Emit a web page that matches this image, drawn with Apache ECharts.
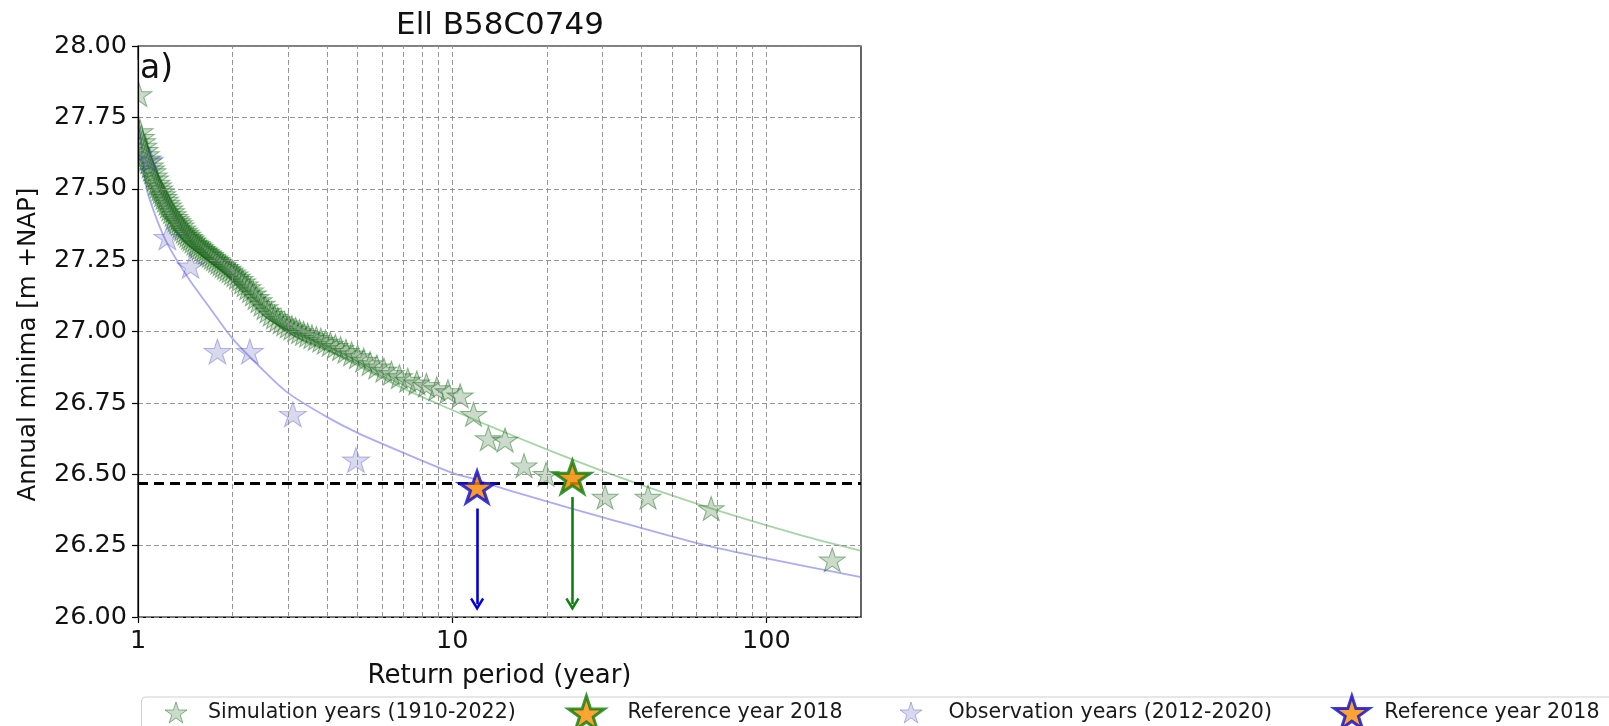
<!DOCTYPE html>
<html>
<head>
<meta charset="utf-8">
<title>Ell B58C0749</title>
<script src="https://cdn.jsdelivr.net/npm/echarts@6/dist/echarts.min.js"></script>
<style>
  html, body { margin: 0; padding: 0; background: #ffffff; }
  #chart { width: 1609px; height: 726px; }
</style>
</head>
<body>
<div id="chart"></div>
<script>
// Simulated annual minima (1910-2022), sorted by return period
const simReturnPeriod = [
  1.006, 1.015, 1.024, 1.034, 1.043, 1.053, 1.063, 1.073, 1.083, 1.094,
  1.104, 1.115, 1.126, 1.137, 1.149, 1.161, 1.173, 1.185, 1.197, 1.210,
  1.223, 1.237, 1.250, 1.264, 1.278, 1.293, 1.308, 1.323, 1.339, 1.355,
  1.371, 1.388, 1.405, 1.423, 1.441, 1.459, 1.478, 1.498, 1.518, 1.539,
  1.560, 1.582, 1.604, 1.627, 1.651, 1.675, 1.700, 1.726, 1.753, 1.780,
  1.809, 1.838, 1.868, 1.899, 1.932, 1.965, 2.000, 2.036, 2.073, 2.112,
  2.152, 2.193, 2.237, 2.282, 2.329, 2.377, 2.428, 2.481, 2.537, 2.595,
  2.656, 2.719, 2.786, 2.856, 2.930, 3.008, 3.090, 3.176, 3.268, 3.365,
  3.468, 3.577, 3.694, 3.818, 3.951, 4.094, 4.247, 4.412, 4.591, 4.785,
  4.996, 5.226, 5.478, 5.756, 6.064, 6.407, 6.790, 7.223, 7.714, 8.277,
  8.929, 9.692, 10.60, 11.69, 13.03, 14.73, 16.93, 19.89, 24.13, 30.65,
  42.00, 66.71, 162.0
];
const simMinima = [
  27.83, 27.70, 27.68, 27.665, 27.65, 27.635, 27.62, 27.605, 27.595, 27.58,
  27.57, 27.56, 27.545, 27.535, 27.52, 27.51, 27.50, 27.49, 27.48, 27.47,
  27.46, 27.45, 27.44, 27.43, 27.42, 27.41, 27.40, 27.392, 27.385, 27.378,
  27.37, 27.36, 27.352, 27.345, 27.338, 27.33, 27.325, 27.318, 27.31, 27.305,
  27.30, 27.294, 27.288, 27.283, 27.278, 27.272, 27.267, 27.261, 27.255, 27.249,
  27.243, 27.237, 27.231, 27.225, 27.219, 27.213, 27.206, 27.199, 27.191, 27.183,
  27.174, 27.164, 27.154, 27.143, 27.132, 27.12, 27.108, 27.096, 27.084, 27.072,
  27.061, 27.051, 27.042, 27.034, 27.027, 27.02, 27.013, 27.007, 27.0, 26.994,
  26.988, 26.982, 26.976, 26.97, 26.963, 26.956, 26.948, 26.94, 26.931, 26.922,
  26.912, 26.9, 26.888, 26.876, 26.865, 26.854, 26.842, 26.83, 26.82, 26.812,
  26.80, 26.79, 26.775, 26.71, 26.625, 26.62, 26.53, 26.50, 26.49, 26.42,
  26.42, 26.38, 26.20
];

// Observed annual minima (2012-2020)
const obsReturnPeriod = [1.09, 1.24, 1.47, 1.79, 2.27, 3.11, 4.94, 12.0];
const obsMinima = [27.60, 27.33, 27.23, 26.93, 26.93, 26.71, 26.55, 26.455];

// Fitted distribution curves
const simFitPeriod = [1.005, 1.02, 1.05, 1.1, 1.2, 1.5, 2, 3, 4, 5, 7, 10, 13, 20, 30, 50, 80, 130, 200];
const simFitLevel = [27.74, 27.67, 27.61, 27.55, 27.476, 27.33, 27.18, 27.025, 26.938, 26.88, 26.80, 26.725, 26.671, 26.587, 26.512, 26.426, 26.353, 26.285, 26.232];
const obsFitPeriod = [1.005, 1.028, 1.066, 1.15, 1.25, 1.46, 1.7, 2, 2.5, 3, 4, 5, 7, 10, 12, 15, 20, 30, 62, 100, 200];
const obsFitLevel = [27.75, 27.63, 27.50, 27.39, 27.30, 27.18, 27.08, 26.975, 26.865, 26.785, 26.70, 26.645, 26.575, 26.505, 26.48, 26.445, 26.405, 26.35, 26.255, 26.205, 26.14];

// Reference year 2018: [return period, level]
const simRef2018 = [24.13, 26.49];
const obsRef2018 = [12.0, 26.455];
const level2018 = 26.47;
// Arrows down to the return-period axis: [return period, start level, end level]
const simRefArrow = [24.13, 26.42, 26.045];
const obsRefArrow = [12.0, 26.38, 26.045];

// Axis ticks and grid positions
const xTickValues = [1, 10, 100];
const xGridValues = [2, 3, 4, 5, 6, 7, 8, 9, 10, 20, 30, 40, 50, 60, 70, 80, 90, 100];

const SIM_NAME = 'Simulation years (1910-2022)';
const SIM_REF_NAME = 'Reference year 2018 (simulation)';
const OBS_NAME = 'Observation years (2012-2020)';
const OBS_REF_NAME = 'Reference year 2018 (observation)';

const STAR = 'path://M100,0 L122.45,69.1 L195.11,69.1 L136.33,111.8 L158.78,180.9 L100,138.2 L41.22,180.9 L63.67,111.8 L4.89,69.1 L77.55,69.1 Z';
const CHEVRON = 'path://M5,0 L10,8.5 L8.6,9.6 L5,3.6 L1.4,9.6 L0,8.5 Z';
const FONT = 'DejaVu Sans';

const simStyle = { color: 'rgba(70,120,70,0.34)', borderColor: 'rgba(0,100,0,0.55)', borderWidth: 1 };
const obsStyle = { color: 'rgba(100,100,180,0.30)', borderColor: 'rgba(60,60,200,0.45)', borderWidth: 1 };
const simRefStyle = { color: '#ff8c00', borderColor: '#0b7d0b', borderWidth: 3 };
const obsRefStyle = { color: '#ff8c00', borderColor: '#0a0ad0', borderWidth: 3 };

const pairs = (xs, ys) => xs.map((x, i) => [x, ys[i]]);

const gridLine = { color: '#8a8a8a', width: 0.9, type: [5, 3] };
const legendText = { fontFamily: FONT, fontSize: 20.6, color: '#1a1a1a' };

function legendItem(name, style, left, top, w, h, gap) {
  return {
    data: [{ name: name, icon: STAR, itemStyle: style }],
    left: left, top: top, padding: 0, itemWidth: w, itemHeight: h,
    selectedMode: false, symbolKeepAspect: true,
    formatter: n => n.replace(/ \((simulation|observation)\)$/, ''),
    textStyle: Object.assign({ padding: [0, 0, 0, gap] }, legendText)
  };
}

const chart = echarts.init(document.getElementById('chart'), null, { renderer: 'canvas' });

chart.setOption({
  animation: false,
  backgroundColor: '#ffffff',
  textStyle: { fontFamily: FONT },
  title: [
    { text: 'Ell B58C0749', left: 500, textAlign: 'center', top: 10, padding: 0,
      textStyle: { fontFamily: FONT, fontSize: 31, fontWeight: 'normal', color: '#111' } },
    { text: 'a)', left: 140, top: 53, padding: 0,
      textStyle: { fontFamily: FONT, fontSize: 33, fontWeight: 'normal', color: '#111' } }
  ],
  grid: { left: 138, right: 748, top: 46, bottom: 109, show: true,
          borderColor: '#000', borderWidth: 1.2, backgroundColor: 'transparent' },
  xAxis: {
    type: 'log', logBase: 10, min: 1, max: 200,
    axisLine: { lineStyle: { color: '#000', width: 1.2 } },
    axisTick: { show: true, length: 6, lineStyle: { color: '#000', width: 1.2 }, customValues: xTickValues },
    axisLabel: { fontFamily: FONT, fontSize: 25.5, color: '#111', margin: 11,
                 customValues: xTickValues,
                 formatter: v => String(Math.round(v)) },
    splitLine: { show: false },
    name: 'Return period (year)', nameLocation: 'middle', nameGap: 46,
    nameTextStyle: { fontFamily: FONT, fontSize: 26, color: '#111' }
  },
  yAxis: {
    type: 'value', min: 26, max: 28, interval: 0.25, z: 3,
    axisLine: { show: true, lineStyle: { color: '#000', width: 1.2 } },
    axisTick: { show: true, length: 6, lineStyle: { color: '#000', width: 1.2 } },
    axisLabel: { fontFamily: FONT, fontSize: 25.5, color: '#111', margin: 11,
                 formatter: v => v.toFixed(2) },
    splitLine: { show: true, lineStyle: gridLine },
    name: 'Annual minima [m +NAP]', nameLocation: 'middle', nameGap: 97, nameRotate: 90,
    nameTextStyle: { fontFamily: FONT, fontSize: 24.5, color: '#111', padding: [0, 26, 0, 0] }
  },
  legend: [
    legendItem(SIM_NAME, simStyle, 164.5, 701.5, 22, 21, 16),
    legendItem(SIM_REF_NAME, simRefStyle, 567, 694.5, 36, 34, 18),
    legendItem(OBS_NAME, obsStyle, 899.5, 701.5, 22, 21, 21.5),
    legendItem(OBS_REF_NAME, obsRefStyle, 1333, 694.5, 35, 33, 10)
  ],
  graphic: [
    // legend frame
    { type: 'rect', z: 1, silent: true,
      shape: { x: 141.5, y: 697, width: 1500, height: 60, r: 4 },
      style: { fill: 'rgba(255,255,255,0.8)', stroke: '#cfcfcf', lineWidth: 1 } },
    // hide marker overflow left of the plotting area
    { type: 'rect', z: 2.5, silent: true,
      shape: { x: 118, y: 60, width: 19.4, height: 130 },
      style: { fill: '#ffffff' } }
  ],
  series: [
    {
      // vertical log grid lines
      type: 'line', data: [], z: 1, silent: true,
      markLine: { silent: true, symbol: ['none', 'none'], label: { show: false },
                  lineStyle: gridLine,
                  data: xGridValues.map(v => ({ xAxis: v })) }
    },
    {
      name: 'simulation fit', type: 'line', smooth: 0.3, showSymbol: false, z: 2,
      data: pairs(simFitPeriod, simFitLevel),
      lineStyle: { color: 'rgba(60,160,60,0.45)', width: 1.8 }
    },
    {
      name: 'observation fit', type: 'line', smooth: 0.3, showSymbol: false, z: 2,
      data: pairs(obsFitPeriod, obsFitLevel),
      lineStyle: { color: 'rgba(90,90,230,0.5)', width: 1.8 }
    },
    {
      name: SIM_NAME, type: 'scatter', z: 2,
      symbol: STAR, symbolSize: [26, 25], symbolKeepAspect: true,
      itemStyle: simStyle,
      data: pairs(simReturnPeriod, simMinima)
    },
    {
      name: OBS_NAME, type: 'scatter', z: 2,
      symbol: STAR, symbolSize: [27, 26], symbolKeepAspect: true,
      itemStyle: obsStyle,
      data: pairs(obsReturnPeriod, obsMinima),
      markLine: { silent: true, symbol: ['none', 'none'], label: { show: false },
                  lineStyle: { color: '#000', width: 3, type: [10, 6] },
                  data: [{ yAxis: level2018 }] }
    },
    {
      name: SIM_REF_NAME, type: 'scatter', z: 5,
      symbol: STAR, symbolSize: [36, 34], symbolKeepAspect: true,
      itemStyle: simRefStyle,
      data: [simRef2018],
      markLine: { silent: true, symbol: ['none', CHEVRON], symbolSize: [14, 13],
                  label: { show: false },
                  lineStyle: { color: '#108010', width: 2.6, type: 'solid' },
                  data: [[{ coord: [simRefArrow[0], simRefArrow[1]] }, { coord: [simRefArrow[0], simRefArrow[2]] }]] }
    },
    {
      name: OBS_REF_NAME, type: 'scatter', z: 5,
      symbol: STAR, symbolSize: [35, 33], symbolKeepAspect: true,
      itemStyle: obsRefStyle,
      data: [obsRef2018],
      markLine: { silent: true, symbol: ['none', CHEVRON], symbolSize: [14, 13],
                  label: { show: false },
                  lineStyle: { color: '#0000d8', width: 2.6, type: 'solid' },
                  data: [[{ coord: [obsRefArrow[0], obsRefArrow[1]] }, { coord: [obsRefArrow[0], obsRefArrow[2]] }]] }
    }
  ]
});
</script>
</body>
</html>
